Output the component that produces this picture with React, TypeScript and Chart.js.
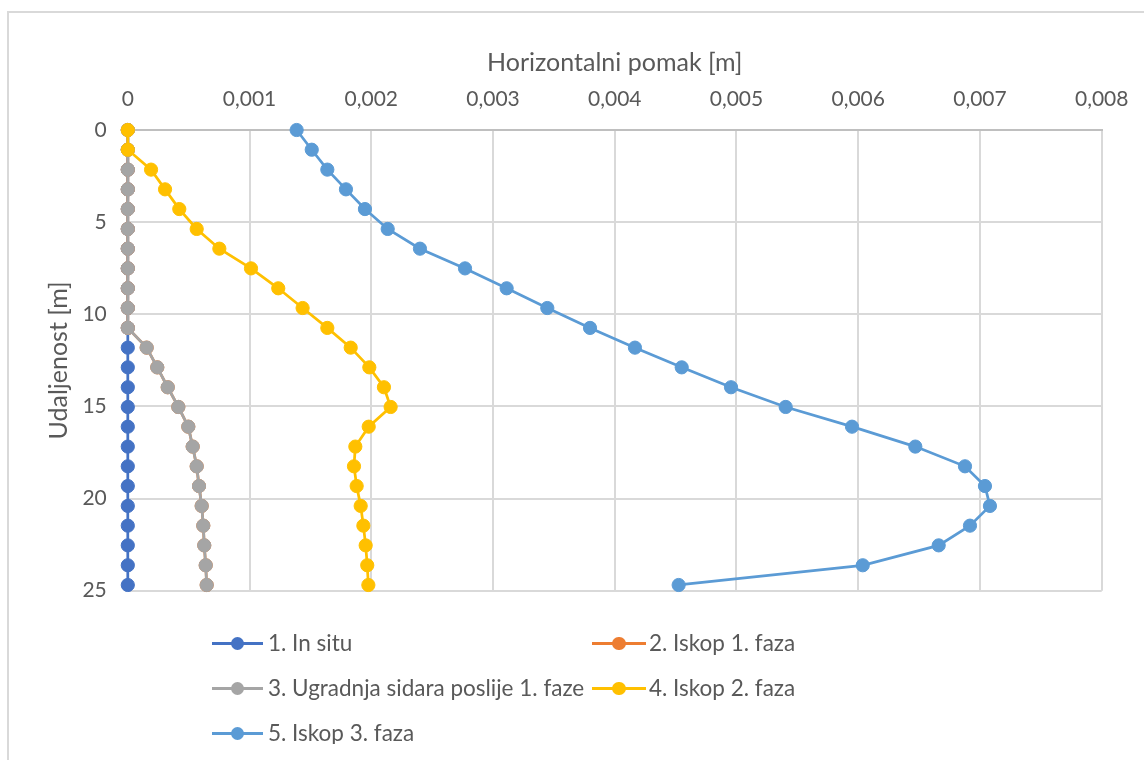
import React, { useEffect, useRef } from 'react';
import { Chart, registerables } from 'chart.js';

Chart.register(...registerables);

// ---- data ----
const depths = [0, 1.07, 2.15, 3.22, 4.29, 5.37, 6.44, 7.51, 8.59, 9.66, 10.74, 11.81, 12.88, 13.96, 15.03, 16.1, 17.18, 18.25, 19.32, 20.4, 21.47, 22.54, 23.62, 24.69];

const inSitu = [0, 0, 0, 0, 0, 0, 0, 0, 0, 0, 0, 0, 0, 0, 0, 0, 0, 0, 0, 0, 0, 0, 0, 0];

const iskop1 = [0, 0, 0, 0, 0, 0, 0, 0, 0, 0, 0, 0.000155, 0.000242, 0.000328, 0.000415, 0.000497, 0.000533, 0.000566, 0.000585, 0.000607, 0.00062, 0.000628, 0.00064, 0.000648];

const ugradnja = [0, 0, 0, 0, 0, 0, 0, 0, 0, 0, 0, 0.000155, 0.000242, 0.000328, 0.000415, 0.000497, 0.000533, 0.000566, 0.000585, 0.000607, 0.00062, 0.000628, 0.00064, 0.000648];

const iskop2 = [0, 0, 0.000191, 0.000306, 0.000423, 0.000566, 0.000752, 0.001012, 0.001236, 0.001436, 0.001639, 0.001831, 0.001984, 0.002104, 0.002159, 0.001979, 0.001869, 0.001858, 0.00188, 0.001913, 0.001935, 0.001954, 0.001967, 0.001976];

const iskop3 = [0.001387, 0.001511, 0.001639, 0.001792, 0.001948, 0.002135, 0.0024, 0.00277, 0.003112, 0.003446, 0.003797, 0.004166, 0.00455, 0.004955, 0.005404, 0.005949, 0.006469, 0.006877, 0.007041, 0.007082, 0.006918, 0.006661, 0.006037, 0.004525];

const seriesNames = ['1. In situ', '2. Iskop 1. faza', '3. Ugradnja sidara poslije 1. faze', '4. Iskop 2. faza', '5. Iskop 3. faza'];
const seriesValues = [inSitu, iskop1, ugradnja, iskop2, iskop3];
const seriesColors = ['#4472C4', '#ED7D31', '#A5A5A5', '#FFC000', '#5B9BD5'];

const xTickLabels = ['0', '0,001', '0,002', '0,003', '0,004', '0,005', '0,006', '0,007', '0,008'];
const yTickLabels = ['0', '5', '10', '15', '20', '25'];

const xTitle = 'Horizontalni pomak [m]';
const yTitle = 'Udaljenost [m]';

// ---- styling / layout ----
const FONT = "Lato, 'Liberation Sans', sans-serif";
const TEXT = '#595959';
const GRID = '#D9D9D9';

// wrapper starts at page x = 7, y = 8
const legendCols = [
  { lineStart: 204.7, lineEnd: 256.3, marker: 230.3, text: 261 },
  { lineStart: 585.3, lineEnd: 638.6, marker: 612, text: 642 },
];
const legendRows = [635.3, 680.3, 725.3];
const legendSlots = [
  [0, 0],
  [1, 0],
  [0, 1],
  [1, 1],
  [0, 2],
];

function Legend() {
  return (
    <>
      {seriesNames.map((name, i) => {
        const [c, r] = legendSlots[i];
        const col = legendCols[c];
        const cy = legendRows[r];
        const color = seriesColors[i];
        return (
          <div key={name} style={{ position: 'absolute', left: 0, top: cy - 15, height: 30, width: 1100 }}>
            <div
              style={{
                position: 'absolute',
                left: col.lineStart,
                top: 15 - 1.4,
                width: col.lineEnd - col.lineStart,
                height: 2.8,
                background: color,
              }}
            />
            <div
              style={{
                position: 'absolute',
                left: col.marker - 6.7,
                top: 15 - 6.7,
                width: 13.4,
                height: 13.4,
                borderRadius: '50%',
                background: color,
              }}
            />
            <div
              style={{
                position: 'absolute',
                left: col.text,
                top: 0,
                height: 30,
                lineHeight: '30px',
                fontFamily: FONT,
                fontSize: 22.5,
                color: TEXT,
                whiteSpace: 'nowrap',
              }}
            >
              {name}
            </div>
          </div>
        );
      })}
    </>
  );
}

export default function App() {
  const canvasRef = useRef<HTMLCanvasElement | null>(null);

  useEffect(() => {
    const canvas = canvasRef.current;
    if (!canvas) return;
    const datasets = seriesNames.map((name, i) => ({
      label: name,
      data: depths.map((d, k) => ({ x: seriesValues[i][k], y: d })),
      borderColor: seriesColors[i],
      backgroundColor: seriesColors[i],
      pointBackgroundColor: seriesColors[i],
      pointBorderColor: seriesColors[i],
      borderWidth: 2.75,
      pointRadius: 6.6,
      pointHoverRadius: 6.6,
      pointBorderWidth: 1,
      showLine: true,
      tension: 0,
      clip: false as any,
      order: seriesNames.length - i,
    }));

    const chart = new Chart(canvas, {
      type: 'scatter',
      data: { datasets },
      options: {
        responsive: false,
        animation: false,
        events: [],
        layout: { padding: { left: 0, top: 0, right: 42.3, bottom: 17.3 }, autoPadding: false },
        plugins: { legend: { display: false }, tooltip: { enabled: false } },
        scales: {
          x: {
            type: 'linear',
            position: 'top',
            min: 0,
            max: 0.008,
            ticks: {
              stepSize: 0.001,
              padding: 18.4,
              color: TEXT,
              font: { family: FONT, size: 21 },
              maxRotation: 0,
              autoSkip: false,
              callback: (v: any) => xTickLabels[Math.round(Number(v) * 1000)] ?? '',
            },
            grid: { color: GRID, lineWidth: 2, drawTicks: false },
            border: { display: true, color: '#BFBFBF', width: 2 },
            title: {
              display: true,
              text: xTitle,
              color: TEXT,
              font: { family: FONT, size: 25 },
              padding: { top: 40.2, bottom: 0 },
            },
            afterFit: (s: any) => {
              s.height = 122;
              s.paddingLeft = 0;
              s.paddingRight = 0;
              s.paddingTop = 0;
              s.paddingBottom = 0;
            },
          },
          y: {
            type: 'linear',
            position: 'left',
            reverse: true,
            min: 0,
            max: 25,
            ticks: {
              stepSize: 5,
              padding: 21,
              color: TEXT,
              font: { family: FONT, size: 21 },
              callback: (v: any) => yTickLabels[Math.round(Number(v) / 5)] ?? '',
            },
            grid: { color: GRID, lineWidth: 2, drawTicks: false },
            border: { display: false },
            title: {
              display: true,
              text: yTitle,
              color: TEXT,
              font: { family: FONT, size: 25 },
              padding: { top: 35.5, bottom: 0 },
            },
            afterFit: (s: any) => {
              s.width = 119.8;
              s.paddingLeft = 0;
              s.paddingRight = 0;
              s.paddingTop = 0;
              s.paddingBottom = 0;
            },
          },
        },
      } as any,
    });
    return () => chart.destroy();
  }, []);

  return (
    <>
      <div style={{ position: 'fixed', left: 7, top: 11, width: 2, height: 760, background: '#D9D9D9' }} />
      <div style={{ position: 'fixed', left: 7, top: 11, width: 1137, height: 2, background: '#D9D9D9' }} />
      <div
        style={{
          position: 'relative',
          marginLeft: -1,
          width: 1137,
          height: 736,
          overflow: 'hidden',
        }}
      >
        <canvas
          ref={canvasRef}
          width={1136}
          height={600}
          style={{ position: 'absolute', left: 1, top: 0, width: 1136, height: 600, display: 'block' }}
        />
        <Legend />
      </div>
    </>
  );
}
